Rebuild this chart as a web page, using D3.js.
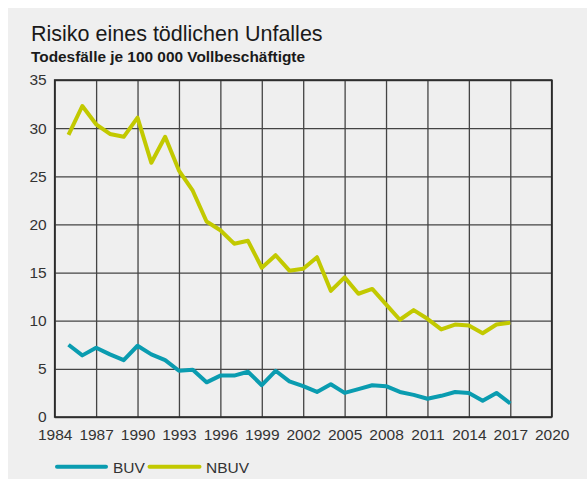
<!DOCTYPE html>
<html>
<head>
<meta charset="utf-8">
<script src="https://cdn.jsdelivr.net/npm/d3@7"></script>
<style>
    html, body { margin: 0; padding: 0; background: #fff; }
    svg { display: block; font-family: "Liberation Sans", Arial, Helvetica, sans-serif; }
    .tick text { fill: #333; font-size: 15.5px; }
</style>
</head>
<body>
<script>
const years = [1985, 1986, 1987, 1988, 1989, 1990, 1991, 1992, 1993, 1994, 1995,
    1996, 1997, 1998, 1999, 2000, 2001, 2002, 2003, 2004, 2005, 2006, 2007, 2008,
    2009, 2010, 2011, 2012, 2013, 2014, 2015, 2016, 2017];
const buv = [7.5, 6.4, 7.2, 6.5, 5.9, 7.4, 6.5, 5.9, 4.8, 4.9, 3.6,
    4.3, 4.3, 4.7, 3.3, 4.8, 3.7, 3.2, 2.6, 3.4, 2.5, 2.9, 3.3, 3.2,
    2.6, 2.3, 1.9, 2.2, 2.6, 2.5, 1.7, 2.5, 1.4];
const nbuv = [29.3, 32.3, 30.4, 29.4, 29.1, 31.1, 26.4, 29.1, 25.6, 23.5, 20.3,
    19.4, 18.0, 18.3, 15.5, 16.8, 15.2, 15.4, 16.6, 13.1, 14.5, 12.8, 13.3, 11.7,
    10.1, 11.1, 10.2, 9.1, 9.6, 9.5, 8.7, 9.6, 9.8];
const xTicks = [1984, 1987, 1990, 1993, 1996, 1999, 2002, 2005, 2008, 2011, 2014, 2017, 2020];
const yTicks = [0, 5, 10, 15, 20, 25, 30, 35];
const series = [
    { name: "BUV", values: buv, color: "#0a9cb0" },
    { name: "NBUV", values: nbuv, color: "#c2c900" }
];

const W = 587, H = 479;
const plot = { left: 54.7, right: 551.7, top: 80, bottom: 417 };

const svg = d3.select("body").append("svg")
    .attr("width", W)
    .attr("height", H);

// grey panel
svg.append("rect")
    .attr("x", 8).attr("y", 8)
    .attr("width", W - 8).attr("height", H - 8)
    .attr("fill", "#efefef");

svg.append("text")
    .attr("x", 31).attr("y", 40.5)
    .attr("fill", "#1a1a1a")
    .style("font-size", "21.5px")
    .text("Risiko eines tödlichen Unfalles");

svg.append("text")
    .attr("x", 31).attr("y", 62)
    .attr("fill", "#1a1a1a")
    .style("font-size", "15.4px")
    .style("font-weight", "bold")
    .text("Todesfälle je 100 000 Vollbeschäftigte");

const x = d3.scaleLinear().domain([1984, 2020]).range([plot.left, plot.right]);
const y = d3.scaleLinear().domain([0, 35]).range([plot.bottom, plot.top]);

// vertical grid + year labels
const xAxis = d3.axisBottom(x)
    .tickValues(xTicks)
    .tickFormat(d3.format("d"))
    .tickSize(-(plot.bottom - plot.top))
    .tickPadding(12);
const gx = svg.append("g")
    .attr("transform", "translate(0," + plot.bottom + ")")
    .call(xAxis);
gx.select(".domain").remove();
gx.selectAll(".tick line").attr("stroke", "#444").attr("stroke-width", 1.3);

// horizontal grid + value labels
const yAxis = d3.axisLeft(y)
    .tickValues(yTicks)
    .tickSize(-(plot.right - plot.left))
    .tickPadding(8);
const gy = svg.append("g")
    .attr("transform", "translate(" + plot.left + ",0)")
    .call(yAxis);
gy.select(".domain").remove();
gy.selectAll(".tick line").attr("stroke", "#444").attr("stroke-width", 1.3);

// frame
svg.append("rect")
    .attr("x", plot.left).attr("y", plot.top)
    .attr("width", plot.right - plot.left).attr("height", plot.bottom - plot.top)
    .attr("fill", "none")
    .attr("stroke", "#2a2a2a")
    .attr("stroke-width", 1.6);

const line = d3.line()
    .x((d, i) => x(years[i]))
    .y(d => y(d));

series.forEach(s => {
    svg.append("path")
        .datum(s.values)
        .attr("fill", "none")
        .attr("stroke", s.color)
        .attr("stroke-width", 4)
        .attr("stroke-linejoin", "round")
        .attr("d", line);
});

// legend
const legendPos = [{ x1: 57, x2: 106, tx: 113 }, { x1: 149.5, x2: 199.5, tx: 206 }];
const legend = svg.append("g");
series.forEach((s, i) => {
    const p = legendPos[i];
    legend.append("line")
        .attr("x1", p.x1).attr("x2", p.x2)
        .attr("y1", 466.7).attr("y2", 466.7)
        .attr("stroke", s.color)
        .attr("stroke-width", 4)
        .attr("stroke-linecap", "round");
    legend.append("text")
        .attr("x", p.tx).attr("y", 472.5)
        .attr("fill", "#333")
        .style("font-size", "15.5px")
        .text(s.name);
});
</script>
</body>
</html>
